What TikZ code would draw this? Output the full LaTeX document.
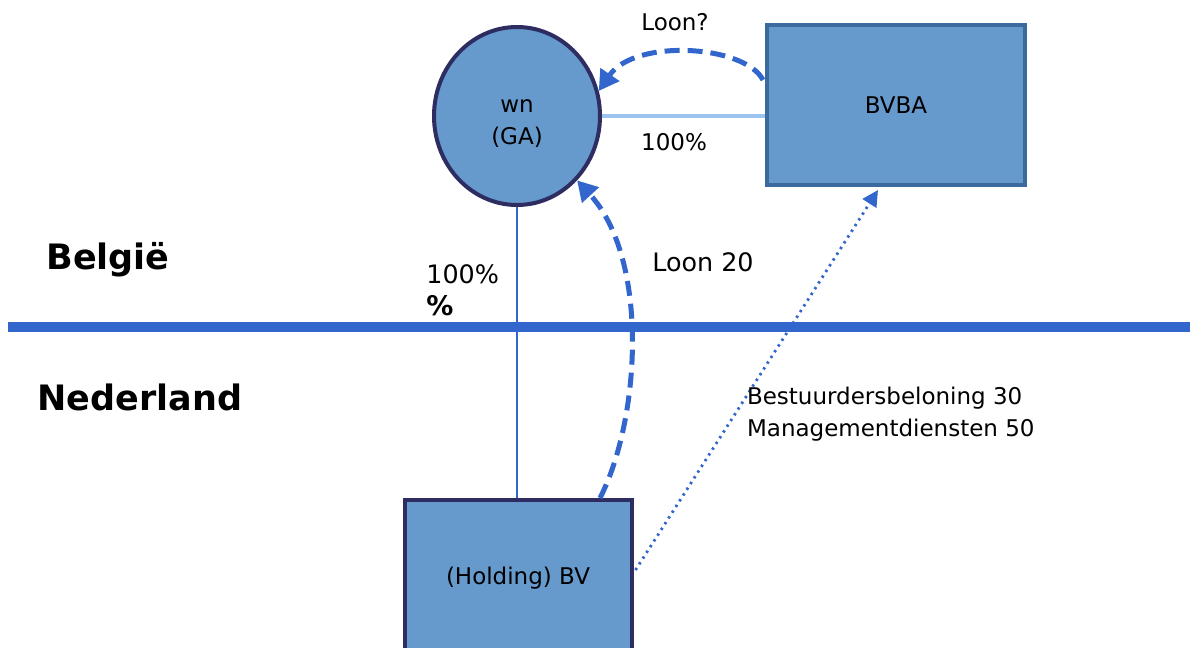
\documentclass[tikz,border=0pt]{standalone}
\usepackage{fontspec}
\setmainfont{DejaVu Sans}
\usetikzlibrary{shapes,arrows.meta,calc}

\definecolor{boxfill}{HTML}{6699CC}
\definecolor{navy}{HTML}{2E2D62}
\definecolor{steel}{HTML}{3A6A9E}
\definecolor{flow}{HTML}{3366CC}
\definecolor{pale}{HTML}{9DC3EE}

\begin{document}
\begin{tikzpicture}[x=0.5pt, y=-0.5pt,
    person/.style={ellipse, draw=navy, line width=2pt, fill=boxfill, minimum width=83pt, minimum height=89pt, inner sep=0pt},
    company/.style={rectangle, draw, line width=2pt, fill=boxfill, font=\fontsize{11.5}{16}\selectfont},
    note/.style={font=\fontsize{11.5}{16}\selectfont},
    bignote/.style={font=\fontsize{12.7}{16}\selectfont},
    country/.style={font=\fontsize{17.5}{20}\selectfont\bfseries},
    pay/.style={-{Triangle[length=10pt,width=11pt]}, flow, line width=2.5pt, dash pattern=on 7.5pt off 4pt},
    fee/.style={-{Triangle[length=8pt,width=8pt]}, flow, line width=1.4pt, dash pattern=on 1.2pt off 2.2pt}
]
\useasboundingbox (0,0) rectangle (1190,648);
\clip (0,0) rectangle (1190,648);

% Persons and companies
\node[person, label={[note, align=center, yshift=-4pt]center:wn\\(GA)}] (wn) at (517,116) {};
\node[company, draw=steel, minimum width=129pt, minimum height=80pt] (bvba) at (896,105) {\raisebox{-1.5pt}{BVBA}};
\node[company, draw=navy, minimum width=113.5pt, minimum height=78pt] (holding) at (518,578) {(Holding) BV};

% Border
\coordinate (bl) at (8,327);
\coordinate (br) at (1190,327);
\draw[flow, line width=5pt] (bl) -- (br);
\node[country] (be) at (108,260) {België};
\node[country] (nl) at (140,397) {Nederland};

% Shareholdings
\draw[pale, line width=2pt] (wn.east) -- (wn.east -| bvba.west);
\draw[flow, line width=0.8pt] (wn.south) -- (wn.south |- holding.north);
\node[note] (sh1) at (674,142) {100\%};
\node[bignote, anchor=north west, align=left, inner sep=0pt] (sh2) at (426,264) {100\%\\[0pt]{\fontsize{13.5}{16}\selectfont\textbf{\%}}};

% Payments
\draw[pay] ($(bvba.west)+(-2,-25)$) .. controls (745,45) and (635,38) .. (wn.17);
\node[note] (loon1) at (675,22) {Loon?};
\draw[pay] ($(holding.north)+(82,0)$) .. controls (640,420) and (650,260) .. (wn.-47);
\node[bignote] (loon2) at (703,262) {Loon 20};
\draw[fee] ($(holding.east)+(2,-8)$) -- ($(bvba.south)+(-18,3)$);
\node[note, anchor=west, align=left] (mgmt) at (740,414) {Bestuurdersbeloning 30\\Managementdiensten 50};

\end{tikzpicture}
\end{document}
